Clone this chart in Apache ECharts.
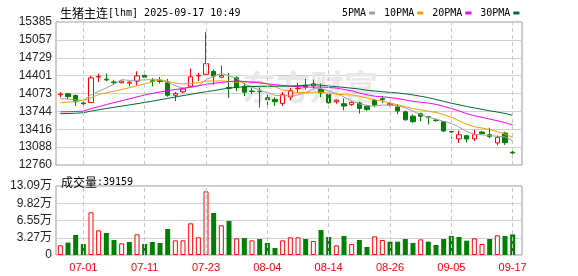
<!DOCTYPE html>
<html>
<head>
<meta charset="utf-8">
<script src="https://cdn.jsdelivr.net/npm/echarts@6/dist/echarts.min.js"></script>
<style>
html,body{margin:0;padding:0;background:#fff;}
#c{width:578px;height:276px;}
</style>
</head>
<body>
<div id="c"></div>
<script>
const dates = ['06-26','06-27','06-30','07-01','07-02','07-03','07-04','07-07','07-08','07-09','07-10','07-11','07-14','07-15','07-16','07-17','07-18','07-21','07-22','07-23','07-24','07-25','07-28','07-29','07-30','07-31','08-01','08-04','08-05','08-06','08-07','08-08','08-11','08-12','08-13','08-14','08-15','08-18','08-19','08-20','08-21','08-22','08-25','08-26','08-27','08-28','08-29','09-01','09-02','09-03','09-04','09-05','09-08','09-09','09-10','09-11','09-12','09-15','09-16','09-17'];
const xTickLabels = ['07-01','07-11','07-23','08-04','08-14','08-26','09-05','09-17'];

const opens  = [14050,14067,14036,13898,13905,14375,14335,14285,14270,14262,14300,14405,14305,14305,14268,14040,14105,14205,14395,14425,14478,14372,14185,14360,14205,14118,14112,13994,13962,13890,14008,14160,14225,14215,14146,14055,13921,13885,13872,13897,13840,13945,13978,13865,13825,13736,13657,13702,13645,13585,13555,13375,13240,13298,13240,13365,13316,13165,13345,12995];
const closes = [14060,14015,13921,13886,14360,14385,14322,14272,14300,14280,14395,14372,14295,14295,14040,14070,14155,14378,14405,14620,14392,14400,14170,14180,14097,14110,14105,13960,13922,14050,14125,14170,14190,14250,14085,13903,13950,13842,13905,13800,13780,13862,13960,13885,13752,13590,13555,13655,13635,13575,13385,13368,13315,13238,13316,13335,13285,13267,13170,12980];
const lows   = [14005,13965,13845,13855,13900,14285,14298,14232,14262,14205,14225,14355,14205,14255,14012,13935,14078,14190,14300,14410,14235,14355,13995,14115,14024,14060,13815,13800,13845,13845,13945,14085,14146,14165,14005,13885,13885,13765,13845,13705,13755,13820,13900,13835,13690,13575,13535,13565,13505,13555,13365,13245,13165,13175,13200,13325,13250,13120,13130,12885];
const highs  = [14097,14086,14055,13960,14395,14438,14438,14325,14310,14300,14480,14420,14355,14375,14340,14100,14185,14530,14452,15200,14512,14585,14450,14390,14269,14170,14185,14055,14005,14100,14175,14270,14342,14329,14256,14065,13960,13980,13930,13920,13855,13975,14030,13915,13880,13760,13690,13720,13650,13615,13565,13385,13390,13315,13408,13380,13444,13298,13370,13075];

const ma5  = [13976,13970,13955,13945,14048,14113,14175,14245,14328,14312,14314,14324,14328,14327,14279,14214,14171,14188,14210,14326,14390,14439,14397,14352,14248,14191,14132,14090,14039,14029,14032,14045,14091,14157,14164,14120,14076,14006,13937,13880,13855,13838,13861,13857,13848,13810,13748,13687,13637,13602,13561,13524,13456,13376,13324,13314,13298,13288,13275,13207];
const ma10 = [13903,13914,13927,13945,13994,14055,14086,14115,14146,14180,14214,14249,14287,14328,14296,14264,14247,14258,14269,14303,14302,14305,14293,14281,14287,14291,14286,14244,14196,14139,14112,14089,14091,14098,14097,14076,14061,14049,14047,14022,13988,13957,13934,13897,13864,13833,13793,13774,13747,13725,13685,13636,13572,13507,13463,13438,13411,13372,13325,13266];
const ma20 = [13735,13738,13742,13750,13795,13830,13870,13905,13940,13975,14010,14045,14075,14100,14125,14145,14165,14190,14215,14241,14258,14277,14290,14304,14291,14277,14267,14251,14232,14221,14207,14197,14192,14189,14192,14183,14173,14146,14121,14080,14050,14023,14012,13998,13980,13954,13927,13912,13897,13873,13836,13796,13753,13702,13664,13635,13602,13573,13536,13495];
const ma30 = [13702,13705,13710,13720,13749,13773,13798,13820,13841,13863,13885,13908,13932,13957,13982,14008,14033,14058,14083,14105,14125,14150,14170,14185,14195,14200,14203,14205,14206,14207,14209,14214,14223,14236,14226,14210,14198,14184,14170,14154,14134,14117,14106,14092,14082,14066,14046,14022,13997,13962,13928,13894,13865,13834,13808,13782,13755,13732,13707,13671];

const volumes = [18400,23400,37900,20900,81000,46800,41700,28500,22100,24700,39200,20900,24700,22800,49300,27800,27800,60100,33500,120800,79700,56300,64500,31600,32200,27800,30400,22800,13300,27800,33500,33500,30400,26600,47400,34100,18300,36000,20900,28500,15200,35400,28500,25300,25300,30400,22800,29700,25300,19000,30400,36000,34100,27100,31600,20900,30400,37300,36000,39159];
const volUp = [1,0,0,0,1,1,0,0,1,0,1,0,0,0,0,1,1,1,1,1,0,1,0,1,0,1,0,0,0,1,1,1,0,1,0,0,1,0,1,0,0,1,1,0,0,0,0,1,0,0,0,0,0,0,1,1,0,1,0,0];

const priceTicks = [12760,13088,13416,13744,14073,14401,14729,15057,15385];
const priceMin = 12760, priceMax = 15385;
const volMax = 130900;
const lastVolume = 39159;

const RED = '#ff0000', GREEN = '#008000';
const LBL = '#222222';
const candleData = dates.map((d, i) => [opens[i], closes[i], lows[i], highs[i]]);
const volData = volumes.map((v, i) => ({
  value: v,
  itemStyle: volUp[i] ? {color: '#ffffff', borderColor: RED, borderWidth: 1} : {color: GREEN, borderColor: GREEN, borderWidth: 0}
}));
const vlines = {
  silent: true, symbol: ['none', 'none'], animation: false,
  label: {show: false},
  lineStyle: {type: [4, 3], color: '#c8c8c8', width: 1},
  emphasis: {disabled: true},
  data: xTickLabels.map(d => ({xAxis: d}))
};

const chart = echarts.init(document.getElementById('c'), null, {renderer: 'canvas'});
const pInterval = (priceMax - priceMin) / (priceTicks.length - 1);
const richTitle = {
  a: {fontFamily: '"Noto Sans CJK SC"', fontSize: 12, color: '#000', fontWeight: 'normal'},
  b: {fontFamily: '"DejaVu Sans Mono"', fontSize: 10, color: '#000', fontWeight: 'normal'}
};
chart.setOption({
  animation: false,
  backgroundColor: '#fff',
  title: [{
    left: 55, top: 2,
    text: '{a|生猪主连}{b|[lhm] 2025-09-17 10:49}',
    textStyle: {fontWeight: 'normal', rich: richTitle}
  }, {
    left: 56, top: 171,
    text: '{a|成交量}{b|:' + lastVolume + '}',
    textStyle: {fontWeight: 'normal', rich: richTitle}
  }],
  legend: {
    left: 337, top: 3, align: 'right', icon: 'rect',
    itemWidth: 6, itemHeight: 3, itemGap: 9,
    textStyle: {fontFamily: '"DejaVu Sans Mono"', fontSize: 10, color: '#000', padding: [0, -2, 0, 0]},
    data: ['5PMA', '10PMA', '20PMA', '30PMA'],
    selectedMode: false
  },
  graphic: [{
    type: 'text', left: 242, top: 70, z: 1, silent: true,
    style: {text: '东方财富', fill: '#e8e8e8', font: 'bold 34px "Noto Sans CJK SC"'}
  }],
  grid: [
    {left: 56, top: 22, width: 466, height: 143, show: true, borderColor: '#999', borderWidth: 1},
    {left: 56.5, top: 22, width: 460, height: 143},
    {left: 56, top: 186, width: 466, height: 69, show: true, borderColor: '#999', borderWidth: 1},
    {left: 56.5, top: 186, width: 460, height: 69}
  ],
  xAxis: [
    {type: 'value', gridIndex: 0, show: false, min: 0, max: 1},
    {type: 'category', gridIndex: 1, data: dates, show: false, boundaryGap: true},
    {type: 'value', gridIndex: 2, show: false, min: 0, max: 1},
    {type: 'category', gridIndex: 3, data: dates, boundaryGap: true,
     axisLine: {show: false}, axisTick: {show: false}, splitLine: {show: false},
     axisLabel: {
       interval: (idx, val) => xTickLabels.indexOf(val) >= 0,
       color: RED, fontFamily: '"Liberation Sans"', fontSize: 11, margin: 7
     }}
  ],
  yAxis: [
    {type: 'value', gridIndex: 0, min: priceMin, max: priceMax, interval: pInterval,
     axisLine: {show: false}, axisTick: {show: false},
     splitLine: {lineStyle: {color: '#d0d0d0', width: 1}},
     axisLabel: {formatter: v => String(Math.round(v)), color: LBL, fontFamily: '"Liberation Sans"', fontSize: 12, margin: 4}},
    {type: 'value', gridIndex: 1, min: priceMin, max: priceMax, show: false, splitLine: {show: false}},
    {type: 'value', gridIndex: 2, min: 0, max: volMax, interval: volMax / 4,
     axisLine: {show: false}, axisTick: {show: false},
     splitLine: {lineStyle: {color: '#d0d0d0', width: 1}},
     axisLabel: {formatter: v => v === 0 ? '0' : (Math.round(v / 100) / 100).toFixed(2) + '万', color: LBL, fontFamily: '"Liberation Sans", "Noto Sans CJK SC"', fontSize: 12, margin: 4}},
    {type: 'value', gridIndex: 3, min: 0, max: volMax, show: false, splitLine: {show: false}}
  ],
  series: [
    {name: 'K', type: 'candlestick', xAxisIndex: 1, yAxisIndex: 1, data: candleData, barWidth: 5,
     itemStyle: {color: '#ffffff', color0: GREEN, borderColor: RED, borderColor0: GREEN, borderWidth: 1},
     markLine: vlines},
    {name: '5PMA', type: 'line', xAxisIndex: 1, yAxisIndex: 1, data: ma5, symbol: 'none', lineStyle: {width: 1, color: '#a0a0a0'}, itemStyle: {color: '#a0a0a0'}},
    {name: '10PMA', type: 'line', xAxisIndex: 1, yAxisIndex: 1, data: ma10, symbol: 'none', lineStyle: {width: 1, color: '#f0a000'}, itemStyle: {color: '#f0a000'}},
    {name: '20PMA', type: 'line', xAxisIndex: 1, yAxisIndex: 1, data: ma20, symbol: 'none', lineStyle: {width: 1, color: '#ff00ff'}, itemStyle: {color: '#ff00ff'}},
    {name: '30PMA', type: 'line', xAxisIndex: 1, yAxisIndex: 1, data: ma30, symbol: 'none', lineStyle: {width: 1, color: '#006a35'}, itemStyle: {color: '#006a35'}},
    {name: 'VOL', type: 'bar', xAxisIndex: 3, yAxisIndex: 3, data: volData, barWidth: 5, markLine: vlines}
  ]
});
</script>
</body>
</html>
